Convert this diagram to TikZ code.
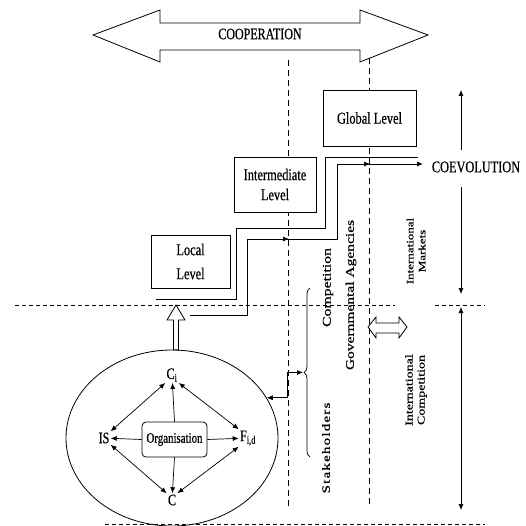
\documentclass[tikz,border=0pt]{standalone}
\usepackage{fontspec}
\setmainfont[FakeStretch=0.75,FakeBold=0.6]{Liberation Serif}
\newfontfamily\uprightfont[FakeBold=0.6]{Liberation Serif}
\newfontfamily\spacedfont[LetterSpace=8,FakeBold=0.6]{Liberation Serif}
\usetikzlibrary{shapes.geometric,decorations.pathreplacing,arrows.meta}

\begin{document}
\begin{tikzpicture}
[x=1pt,y=-1pt,>={Latex[length=6pt,width=5pt]},line width=0.7pt,
 level/.style={draw,line width=0.9pt,fill=white,align=center,font=\fontsize{16.5}{20}\selectfont},
 vdash/.style={dash pattern=on 6pt off 4pt,line width=0.8pt},
 hdash/.style={dash pattern=on 4pt off 3pt,line width=0.7pt},
 turned/.style={xscale=0.75,rotate=90,align=center,inner sep=0pt},
 factor/.style={font=\fontsize{16}{17}\selectfont,inner sep=1pt}]
\useasboundingbox (0,0) rectangle (526,526);

% cooperation
\draw[line width=0.8pt] (93,35) -- (160,10) -- (160,23) -- (360,23) -- (360,10) -- (428,35)
 -- (360,62) -- (360,50) -- (160,50) -- (160,62) -- cycle;
\node (coop) at (260,34) {\fontsize{16}{18}\selectfont COOPERATION};

% dashed guides
\draw[vdash] (288,60) -- (288,508);
\draw[vdash] (369,58) -- (369,505);
\draw[hdash] (15,305) -- (395,305);
\draw[hdash] (435,305) -- (485,305);
\draw[hdash] (105,524) -- (485,524);

% levels
\node[level,minimum width=93,minimum height=56] (global) at (369.5,118) {Global Level};
\node[level,minimum width=82,minimum height=55] (inter) at (275,184.5) {Intermediate\\Level};
\node[level,minimum width=79,minimum height=53] (local) at (190.5,261.5) {Local\\[4pt]Level};

\draw[line width=0.9pt] (156,299) -- (236,299) -- (236,228) -- (325,228) -- (325,157) -- (418,157);
\draw[line width=0.9pt,->] (190,315) -- (247,315) -- (247,239) -- (337,239) -- (337,164) -- (423,164);
\draw[->] (275,239) -- (289,239);
\draw[->] (355,164) -- (370,164);

% coevolution
\node (coevo) at (476,167) {\fontsize{16.4}{18}\selectfont COEVOLUTION};
\coordinate (coevtop) at (461,90);
\coordinate (coevend) at (461,294);
\coordinate (comptop) at (461,307);
\coordinate (compend) at (461,510);
\draw[->] (461,150) -- (coevtop);
\draw[->] (461,187) -- (coevend);
\draw[<->] (comptop) -- (compend);

% organisation
\draw[line width=0.8pt] (176,305) -- (185,320) -- (178.5,320) -- (178.5,350) -- (173.5,350)
 -- (173.5,320) -- (167,320) -- cycle;
\node[draw,ellipse,line width=0.8pt,minimum width=212,minimum height=176,inner sep=0pt] (ring) at (172,438) {};
\node[draw,rounded corners=4pt,line width=0.8pt,minimum width=65,minimum height=35,
 font=\fontsize{14.5}{16}\selectfont] (org) at (174.5,439.5) {Organisation};
\node[factor] (ci) at (172,375) {C\textsubscript{i}};
\node[factor] (is) at (104,438) {IS};
\node[factor] (fid) at (248,438) {F\textsubscript{i,d}};
\node[factor] (c) at (172,500) {C};
\draw[->] (org.north) -- (ci);
\draw[->] (org.south) -- (c);
\draw[->] (org.west) -- (is);
\draw[->] (org.east) -- (fid);
\draw[<->] (ci.south west) -- (is.north east);
\draw[<->] (ci.south east) -- (fid.north west);
\draw[<->] (is.south east) -- (c.north west);
\draw[<->] (fid.south west) -- (c.north east);

% stakeholders
\draw[decorate,decoration={brace,amplitude=6pt}] (310,457) -- (310,288);
\coordinate (stk) at (303,372.5);
\draw[<->] (ring.23) -- ++(21,0) |- (stk);
\draw[line width=0.8pt] (368,327) -- (376,317) -- (376,323) -- (399,323) -- (399,317) -- (407,327)
 -- (399,338) -- (399,333) -- (376,333) -- (376,338) -- cycle;

\node[turned,font=\uprightfont\fontsize{15.8}{16}\selectfont] (compet) at (328,287.5) {Competition};
\node[turned,font=\spacedfont\fontsize{15}{16}\selectfont] (stake) at (326,448) {Stakeholders};
\node[turned,font=\uprightfont\fontsize{15.5}{16}\selectfont] (agency) at (351,295) {Governmental Agencies};
\node[turned,font=\uprightfont\fontsize{13}{16}\selectfont] (markets) at (416,251) {International\\Markets};
\node[turned,font=\uprightfont\fontsize{14}{16}\selectfont] (intcomp) at (416,390) {International\\Competition};
\end{tikzpicture}
\end{document}
